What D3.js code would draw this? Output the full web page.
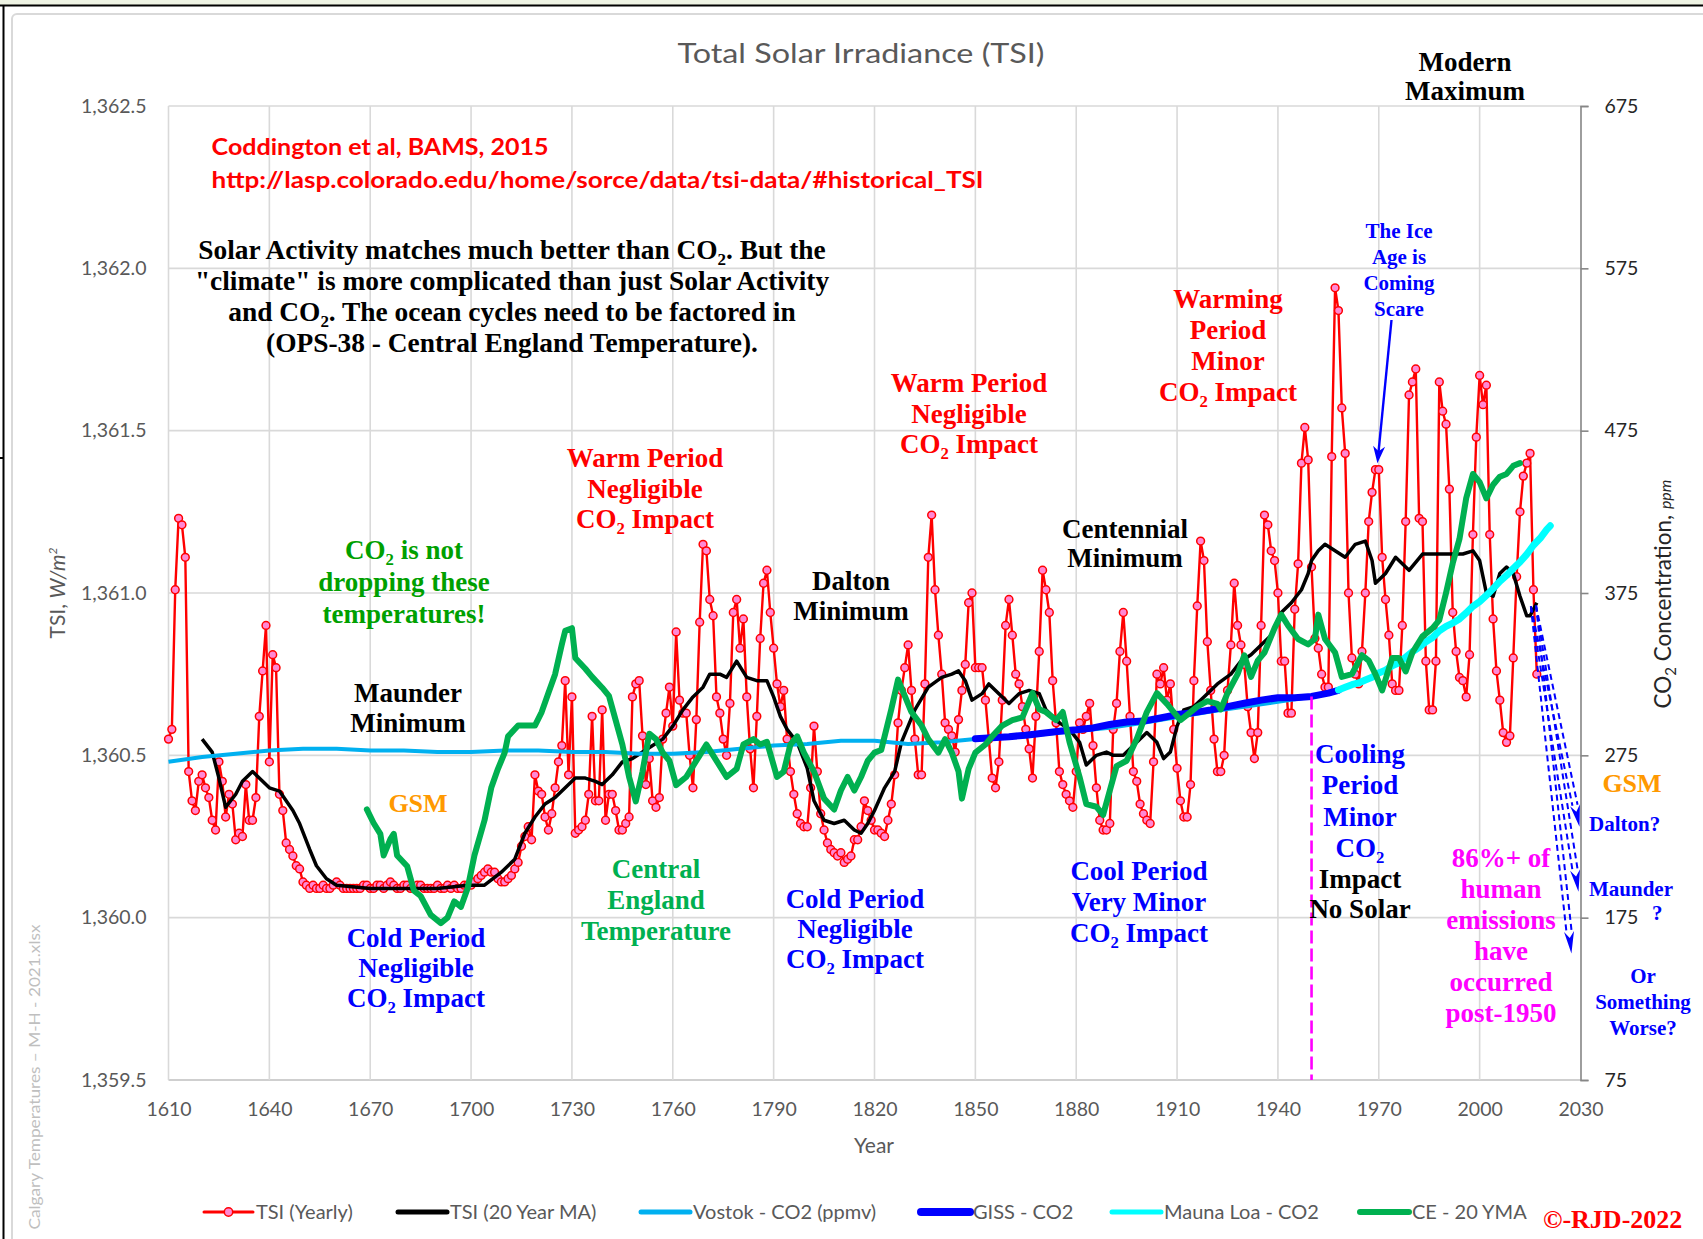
<!DOCTYPE html>
<html><head><meta charset="utf-8"><title>Total Solar Irradiance (TSI)</title>
<script src="https://cdnjs.cloudflare.com/ajax/libs/d3/7.8.5/d3.min.js"></script>
<style>html,body{margin:0;padding:0;background:#fff;overflow:hidden}svg{display:block}</style>
</head><body>
<svg id="chart" width="1703" height="1239"></svg>
<script>
// ================= DATA =================
const tsiFirstYear = 1610;
// TSI (Yearly), W/m2, one value per year from 1610
const tsiYearly = [
 1360.55,1360.58,1361.01,1361.23,1361.21,1361.11,1360.45,1360.36,1360.33,1360.42, // 1610
 1360.44,1360.40,1360.37,1360.30,1360.27,1360.48,1360.42,1360.31,1360.38,1360.35, // 1620
 1360.24,1360.26,1360.25,1360.41,1360.30,1360.30,1360.37,1360.62,1360.76,1360.90, // 1630
 1360.48,1360.81,1360.77,1360.38,1360.33,1360.23,1360.21,1360.19,1360.16,1360.15, // 1640
 1360.11,1360.10,1360.09,1360.10,1360.09,1360.09,1360.10,1360.09,1360.09,1360.10, // 1650
 1360.11,1360.10,1360.09,1360.09,1360.09,1360.09,1360.09,1360.09,1360.10,1360.10, // 1660
 1360.09,1360.09,1360.10,1360.10,1360.09,1360.10,1360.11,1360.10,1360.09,1360.09, // 1670
 1360.10,1360.10,1360.09,1360.09,1360.10,1360.10,1360.09,1360.09,1360.09,1360.09, // 1680
 1360.10,1360.09,1360.09,1360.10,1360.09,1360.10,1360.09,1360.09,1360.10,1360.10, // 1690
 1360.10,1360.11,1360.12,1360.13,1360.14,1360.15,1360.14,1360.14,1360.12,1360.11, // 1700
 1360.11,1360.12,1360.13,1360.15,1360.17,1360.22,1360.25,1360.28,1360.24,1360.44, // 1710
 1360.39,1360.38,1360.31,1360.27,1360.32,1360.40,1360.48,1360.53,1360.73,1360.44, // 1720
 1360.68,1360.26,1360.27,1360.28,1360.30,1360.38,1360.62,1360.36,1360.36,1360.64, // 1730
 1360.30,1360.38,1360.38,1360.33,1360.27,1360.27,1360.29,1360.31,1360.68,1360.72, // 1740
 1360.73,1360.56,1360.41,1360.49,1360.36,1360.34,1360.37,1360.55,1360.63,1360.71, // 1750
 1360.59,1360.88,1360.67,1360.63,1360.63,1360.50,1360.40,1360.61,1360.91,1361.15, // 1760
 1361.13,1360.98,1360.93,1360.68,1360.63,1360.55,1360.50,1360.66,1360.94,1360.98, // 1770
 1360.83,1360.92,1360.68,1360.52,1360.40,1360.62,1360.86,1361.03,1361.07,1360.94, // 1780
 1360.83,1360.72,1360.65,1360.70,1360.55,1360.45,1360.38,1360.32,1360.29,1360.28, // 1790
 1360.28,1360.40,1360.59,1360.45,1360.32,1360.27,1360.23,1360.21,1360.20,1360.19, // 1800
 1360.20,1360.17,1360.18,1360.19,1360.24,1360.24,1360.28,1360.36,1360.33,1360.30, // 1810
 1360.27,1360.27,1360.26,1360.25,1360.30,1360.35,1360.44,1360.60,1360.70,1360.77, // 1820
 1360.84,1360.70,1360.55,1360.44,1360.44,1360.72,1361.11,1361.24,1361.01,1360.87, // 1830
 1360.75,1360.60,1360.58,1360.56,1360.51,1360.61,1360.70,1360.78,1360.97,1361.00, // 1840
 1360.77,1360.77,1360.77,1360.67,1360.55,1360.43,1360.40,1360.48,1360.67,1360.90, // 1850
 1360.98,1360.87,1360.75,1360.72,1360.65,1360.58,1360.52,1360.43,1360.62,1360.82, // 1860
 1361.07,1361.01,1360.94,1360.73,1360.60,1360.45,1360.41,1360.38,1360.36,1360.34, // 1870
 1360.45,1360.60,1360.58,1360.62,1360.66,1360.53,1360.40,1360.30,1360.27,1360.27, // 1880
 1360.29,1360.58,1360.66,1360.82,1360.94,1360.79,1360.62,1360.45,1360.42,1360.35, // 1890
 1360.32,1360.30,1360.29,1360.48,1360.75,1360.72,1360.77,1360.67,1360.72,1360.58, // 1900
 1360.46,1360.36,1360.31,1360.31,1360.41,1360.73,1360.96,1361.16,1361.10,1360.85, // 1910
 1360.70,1360.55,1360.45,1360.45,1360.50,1360.70,1360.84,1361.03,1360.90,1360.84, // 1920
 1360.78,1360.65,1360.57,1360.49,1360.57,1360.90,1361.24,1361.21,1361.13,1361.10, // 1930
 1361.00,1360.79,1360.79,1360.63,1360.63,1360.95,1361.09,1361.40,1361.51,1361.41, // 1940
 1361.08,1360.86,1360.83,1360.75,1360.71,1360.71,1361.42,1361.94,1361.87,1361.57, // 1950
 1361.43,1361.00,1360.80,1360.75,1360.72,1360.82,1361.00,1361.22,1361.31,1361.38, // 1960
 1361.38,1361.11,1360.98,1360.87,1360.72,1360.70,1360.70,1360.90,1361.22,1361.61, // 1970
 1361.65,1361.69,1361.23,1361.22,1360.79,1360.64,1360.64,1360.79,1361.65,1361.56, // 1980
 1361.52,1361.32,1360.94,1360.82,1360.74,1360.73,1360.68,1360.81,1361.18,1361.48, // 1990
 1361.67,1361.58,1361.64,1361.18,1360.92,1360.76,1360.67,1360.57,1360.54,1360.56, // 2000
 1360.80,1361.05,1361.25,1361.36,1361.40,1361.43,1361.01,1360.75                  // 2010
];
// TSI (20 Year MA) [year, W/m2]
const tsiMA20 = [[1620,1360.55],[1623,1360.51],[1625,1360.43],[1627,1360.34],[1630,1360.38],[1632,1360.42],[1634,1360.44],[1635,1360.45],[1637,1360.43],[1640,1360.40],[1643,1360.39],[1645,1360.36],[1647,1360.33],[1649,1360.29],[1652,1360.21],[1654,1360.16],[1657,1360.12],[1660,1360.10],[1670,1360.09],[1680,1360.09],[1690,1360.09],[1699,1360.10],[1704,1360.10],[1709,1360.14],[1713,1360.18],[1716,1360.26],[1719,1360.31],[1722,1360.35],[1725,1360.37],[1728,1360.40],[1731,1360.43],[1734,1360.43],[1737,1360.42],[1739,1360.41],[1742,1360.44],[1745,1360.48],[1748,1360.49],[1751,1360.51],[1754,1360.53],[1757,1360.55],[1760,1360.59],[1763,1360.64],[1766,1360.68],[1769,1360.71],[1771,1360.75],[1774,1360.75],[1776,1360.74],[1779,1360.79],[1782,1360.74],[1785,1360.73],[1788,1360.73],[1790,1360.68],[1792,1360.62],[1794,1360.58],[1797,1360.54],[1800,1360.46],[1802,1360.36],[1805,1360.30],[1808,1360.29],[1811,1360.30],[1814,1360.27],[1816,1360.26],[1818,1360.29],[1820,1360.33],[1823,1360.40],[1826,1360.45],[1828,1360.54],[1832,1360.64],[1836,1360.71],[1840,1360.74],[1843,1360.75],[1845,1360.76],[1847,1360.73],[1849,1360.67],[1852,1360.69],[1854,1360.72],[1857,1360.69],[1860,1360.66],[1863,1360.69],[1866,1360.70],[1869,1360.69],[1871,1360.64],[1875,1360.60],[1878,1360.58],[1881,1360.54],[1883,1360.47],[1886,1360.50],[1889,1360.51],[1891,1360.50],[1894,1360.50],[1897,1360.53],[1901,1360.57],[1904,1360.54],[1906,1360.49],[1908,1360.51],[1910,1360.59],[1912,1360.64],[1915,1360.65],[1918,1360.68],[1922,1360.72],[1926,1360.75],[1929,1360.79],[1932,1360.81],[1935,1360.84],[1938,1360.87],[1941,1360.94],[1944,1360.97],[1947,1361.01],[1949,1361.06],[1950,1361.10],[1952,1361.13],[1954,1361.15],[1957,1361.13],[1960,1361.11],[1963,1361.15],[1966,1361.16],[1968,1361.10],[1969,1361.03],[1972,1361.06],[1975,1361.11],[1979,1361.07],[1983,1361.12],[1987,1361.12],[1991,1361.12],[1995,1361.12],[1998,1361.13],[2000,1361.10],[2002,1361.00],[2004,1360.99],[2006,1361.06],[2008,1361.08],[2010,1361.06],[2012,1360.99],[2014,1360.93],[2015,1360.93],[2017,1360.97]];
// Vostok - CO2 (ppmv) [year, ppm]
const vostokCO2 = [[1610,271],[1620,274],[1630,276],[1640,278],[1650,279],[1660,279],[1670,278],[1680,278],[1690,277],[1700,277],[1710,278],[1720,278],[1730,277],[1740,277],[1750,276],[1760,276],[1770,277],[1780,279],[1790,281],[1800,282],[1810,284],[1820,284],[1830,282],[1840,283],[1850,285],[1860,286],[1870,288],[1880,290],[1890,292],[1900,295],[1920,302],[1940,308],[1953,312]];
// GISS - CO2 [year, ppm]
const gissCO2 = [[1850,285.2],[1855,285.9],[1860,286.5],[1865,287.4],[1870,288.6],[1875,289.8],[1880,290.7],[1885,291.9],[1890,294.0],[1895,295.5],[1900,296.1],[1905,298.0],[1910,300.1],[1915,301.3],[1920,303.0],[1925,305.0],[1930,307.1],[1935,309.0],[1940,310.5],[1945,310.5],[1950,311.3],[1955,313.3],[1958,315.0]];
// Mauna Loa - CO2 [year, ppm]
const maunaLoaCO2 = [[1958,315.3],[1960,316.9],[1962,318.5],[1964,319.6],[1966,321.4],[1968,323.1],[1970,325.7],[1972,327.5],[1974,330.2],[1976,332.0],[1978,335.4],[1980,338.8],[1982,341.5],[1984,344.9],[1986,347.6],[1988,351.7],[1990,354.5],[1992,356.5],[1994,359.0],[1996,362.7],[1998,366.8],[2000,369.7],[2002,373.5],[2004,377.7],[2006,382.1],[2008,385.8],[2010,390.1],[2012,394.1],[2014,398.8],[2016,404.4],[2018,408.7],[2020,414.2],[2021,416.4]];
// CE - 20 YMA (Central England Temperature, deg C, hidden axis) [year, degC]
const ce20yma = [[1669,9.00],[1671,8.95],[1673,8.91],[1674,8.83],[1676,8.89],[1677,8.91],[1678,8.83],[1681,8.79],[1683,8.70],[1685,8.68],[1688,8.61],[1691,8.58],[1693,8.60],[1695,8.66],[1697,8.64],[1699,8.71],[1701,8.83],[1704,8.96],[1706,9.08],[1708,9.15],[1710,9.21],[1711,9.27],[1714,9.31],[1717,9.31],[1719,9.31],[1721,9.36],[1723,9.43],[1725,9.50],[1727,9.61],[1728,9.66],[1730,9.67],[1731,9.56],[1734,9.52],[1736,9.49],[1739,9.45],[1741,9.42],[1743,9.33],[1745,9.24],[1747,9.12],[1749,9.03],[1751,9.14],[1753,9.28],[1755,9.26],[1757,9.21],[1759,9.18],[1761,9.09],[1764,9.12],[1766,9.16],[1768,9.20],[1770,9.24],[1772,9.20],[1774,9.16],[1776,9.12],[1779,9.15],[1781,9.24],[1784,9.26],[1786,9.24],[1788,9.25],[1791,9.12],[1793,9.14],[1795,9.24],[1797,9.27],[1799,9.21],[1802,9.14],[1805,9.04],[1808,9.00],[1810,9.07],[1812,9.12],[1814,9.07],[1816,9.12],[1818,9.18],[1820,9.21],[1822,9.22],[1825,9.37],[1827,9.48],[1829,9.42],[1831,9.36],[1834,9.31],[1836,9.26],[1839,9.21],[1841,9.26],[1843,9.21],[1845,9.14],[1846,9.04],[1848,9.15],[1850,9.21],[1853,9.24],[1855,9.27],[1858,9.31],[1861,9.33],[1864,9.34],[1867,9.43],[1869,9.37],[1871,9.36],[1874,9.33],[1876,9.36],[1878,9.25],[1881,9.12],[1883,9.02],[1886,9.01],[1888,8.98],[1890,9.07],[1892,9.16],[1895,9.18],[1898,9.26],[1901,9.36],[1904,9.43],[1907,9.39],[1909,9.36],[1911,9.33],[1914,9.36],[1916,9.38],[1919,9.40],[1922,9.39],[1923,9.37],[1925,9.43],[1928,9.50],[1930,9.57],[1932,9.49],[1934,9.55],[1936,9.58],[1939,9.67],[1941,9.72],[1943,9.68],[1946,9.63],[1949,9.61],[1951,9.63],[1952,9.72],[1954,9.63],[1957,9.58],[1959,9.49],[1962,9.50],[1965,9.57],[1967,9.55],[1969,9.50],[1971,9.44],[1974,9.56],[1976,9.56],[1978,9.51],[1980,9.58],[1983,9.64],[1986,9.67],[1988,9.70],[1990,9.80],[1992,9.91],[1994,10.00],[1996,10.15],[1998,10.24],[2000,10.21],[2002,10.15],[2004,10.20],[2006,10.23],[2008,10.24],[2010,10.27],[2012,10.28]];

const yearTicks = [1610,1640,1670,1700,1730,1760,1790,1820,1850,1880,1910,1940,1970,2000,2030];
const tsiTicks = [1359.5,1360.0,1360.5,1361.0,1361.5,1362.0,1362.5];
const co2Ticks = [75,175,275,375,475,575,675];
const post1950Year = 1950;
const iceAgeTarget = [1969.6, 1361.40];
const projectionStart = [2016, 1360.96];
const projectionEnds = [[2029.7,1360.28],[2029.4,1360.08],[2027.3,1359.89]];
const legendItems = ["TSI (Yearly)","TSI (20 Year MA)","Vostok - CO2 (ppmv)","GISS - CO2","Mauna Loa - CO2","CE - 20 YMA"];

// ================= DRAW =================
const W = 1703, H = 1239;
const PL = 168.5, PR = 1580.5, PT = 106, PB = 1080;
const SANS = "Lato, 'Open Sans', 'Liberation Sans', sans-serif";
const SERIF = "'Liberation Serif', 'Times New Roman', serif";
const RED = "#FF0000", BLUE = "#0000FF", GREY = "#595959";

const svg = d3.select("#chart");
const x = d3.scaleLinear().domain([1610, 2030]).range([PL, PR]);
const y = d3.scaleLinear().domain([1359.5, 1362.5]).range([PB, PT]);
const yCO2 = d3.scaleLinear().domain([75, 675]).range([PB, PT]);
const yCE = d3.scaleLinear().domain([8.0, 11.6]).range([PB, PT]);

// frame
svg.append("rect").attr("width", W).attr("height", H).attr("fill", "#fff");
svg.append("rect").attr("x", 0).attr("y", 0).attr("width", W).attr("height", 5).attr("fill", "#EEF3E3");
svg.append("rect").attr("x", 12).attr("y", 14).attr("width", W).attr("height", H).attr("rx", 5)
  .attr("fill", "#fff").attr("stroke", "#D9D9D9").attr("stroke-width", 2);
svg.append("line").attr("x1", 0).attr("x2", W).attr("y1", 5.5).attr("y2", 5.5).attr("stroke", "#000").attr("stroke-width", 2);
svg.append("line").attr("x1", 3.5).attr("x2", 3.5).attr("y1", 5).attr("y2", H).attr("stroke", "#000").attr("stroke-width", 2);
svg.append("line").attr("x1", 0).attr("x2", 4).attr("y1", 458).attr("y2", 458).attr("stroke", "#000").attr("stroke-width", 2);

// gridlines
const grid = svg.append("g");
grid.selectAll("line.h").data(tsiTicks).join("line").attr("class", "h")
  .attr("x1", PL).attr("x2", PR).attr("y1", d => y(d)).attr("y2", d => y(d))
  .attr("stroke", (d, i) => i === 0 ? "#BFBFBF" : "#D9D9D9").attr("stroke-width", 1.6);
grid.selectAll("line.v").data(yearTicks.slice(0, -1)).join("line").attr("class", "v")
  .attr("x1", d => x(d)).attr("x2", d => x(d)).attr("y1", PT).attr("y2", PB)
  .attr("stroke", "#D9D9D9").attr("stroke-width", 1.6);

// axes
const gx = svg.append("g").attr("transform", `translate(0,${PB})`)
  .call(d3.axisBottom(x).tickValues(yearTicks).tickFormat(d3.format("d")).tickSize(0).tickPadding(22));
gx.select(".domain").remove();
gx.selectAll("text").attr("font-family", SANS).attr("font-size", 19.5).attr("fill", GREY);

const gy = svg.append("g").attr("transform", `translate(${PL},0)`)
  .call(d3.axisLeft(y).tickValues(tsiTicks).tickFormat(d3.format(",.1f")).tickSize(0).tickPadding(22));
gy.select(".domain").remove();
gy.selectAll("text").attr("font-family", SANS).attr("font-size", 19.5).attr("fill", GREY);

const gr = svg.append("g").attr("transform", `translate(${PR},0)`)
  .call(d3.axisRight(yCO2).tickValues(co2Ticks).tickSize(8).tickSizeOuter(8).tickPadding(16));
gr.select(".domain").attr("stroke", "#868686").attr("stroke-width", 1.6);
gr.selectAll(".tick line").attr("stroke", "#868686").attr("stroke-width", 1.6);
gr.selectAll("text").attr("font-family", SANS).attr("font-size", 19.5).attr("fill", "#262626");

// titles
svg.append("text").attr("x", 861).attr("y", 63).attr("text-anchor", "middle")
  .attr("font-family", SANS).attr("font-size", 26).attr("fill", GREY)
  .attr("textLength", 367).attr("lengthAdjust", "spacingAndGlyphs").text("Total Solar Irradiance (TSI)");
svg.append("text").attr("x", 874).attr("y", 1153).attr("text-anchor", "middle")
  .attr("font-family", SANS).attr("font-size", 21).attr("fill", GREY).text("Year");

const lt = svg.append("text").attr("transform", "translate(64.5,593) rotate(-90)").attr("text-anchor", "middle")
  .attr("font-family", SANS).attr("font-size", 21).attr("fill", GREY);
lt.append("tspan").text("TSI, ");
lt.append("tspan").attr("font-style", "italic").text("W/m");
lt.append("tspan").attr("font-size", 12).attr("dy", -8).attr("font-style", "italic").text("2");

const rt = svg.append("text").attr("transform", "translate(1671,594) rotate(-90)").attr("text-anchor", "middle")
  .attr("font-family", SANS).attr("font-size", 22.5).attr("fill", "#262626");
rt.append("tspan").text("CO");
rt.append("tspan").attr("font-size", 15).attr("dy", 5).text("2");
rt.append("tspan").attr("dy", -5).text(" Concentration, ");
rt.append("tspan").attr("font-size", 16).attr("font-style", "italic").text("ppm");

svg.append("text").attr("transform", "translate(40,1077) rotate(-90)").attr("text-anchor", "middle")
  .attr("font-family", SANS).attr("font-size", 16).attr("fill", "#BFBFBF")
  .attr("textLength", 305).attr("lengthAdjust", "spacingAndGlyphs").text("Calgary Temperatures \u2013 M-H - 2021.xlsx");

// series
const tsiData = tsiYearly.map((v, i) => [tsiFirstYear + i, v]);
const lineTSI = d3.line().x(d => x(d[0])).y(d => y(d[1]));
const lineCO2 = d3.line().x(d => x(d[0])).y(d => yCO2(d[1]));
const lineCE = d3.line().x(d => x(d[0])).y(d => yCE(d[1]));

svg.append("path").datum(tsiData).attr("d", lineTSI).attr("fill", "none")
  .attr("stroke", RED).attr("stroke-width", 2.4).attr("stroke-linejoin", "round");
svg.append("g").selectAll("circle").data(tsiData).join("circle")
  .attr("cx", d => x(d[0])).attr("cy", d => y(d[1])).attr("r", 3.9)
  .attr("fill", "#FF88D4").attr("stroke", RED).attr("stroke-width", 1.5);
svg.append("path").datum(tsiMA20).attr("d", lineTSI).attr("fill", "none")
  .attr("stroke", "#000").attr("stroke-width", 3.5).attr("stroke-linejoin", "round");
svg.append("path").datum(vostokCO2).attr("d", lineCO2).attr("fill", "none")
  .attr("stroke", "#00B0F0").attr("stroke-width", 4).attr("stroke-linejoin", "round");
svg.append("path").datum(gissCO2).attr("d", lineCO2).attr("fill", "none")
  .attr("stroke", BLUE).attr("stroke-width", 7).attr("stroke-linejoin", "round").attr("stroke-linecap", "round");
svg.append("path").datum(maunaLoaCO2).attr("d", lineCO2).attr("fill", "none")
  .attr("stroke", "#00FFFF").attr("stroke-width", 7).attr("stroke-linejoin", "round").attr("stroke-linecap", "round");
svg.append("path").datum(ce20yma).attr("d", lineCE).attr("fill", "none")
  .attr("stroke", "#00B050").attr("stroke-width", 6).attr("stroke-linejoin", "round").attr("stroke-linecap", "round");

// post-1950 dashed line
const giss1950 = gissCO2.find(d => d[0] === post1950Year)[1];
svg.append("line").attr("x1", x(post1950Year)).attr("x2", x(post1950Year))
  .attr("y1", yCO2(giss1950)).attr("y2", PB)
  .attr("stroke", "#FF00FF").attr("stroke-width", 2.6).attr("stroke-dasharray", "13,5");

// text helper (supports "_2" subscript)
function rich(t, str, size) {
  const parts = str.split("_2");
  let down = false;
  parts.forEach((p, i) => {
    if (p.length) { const s = t.append("tspan").text(p); if (down) { s.attr("dy", -size * 0.22); down = false; } }
    if (i < parts.length - 1) { t.append("tspan").attr("font-size", size * 0.62).attr("dy", size * 0.22).text("2"); down = true; }
  });
}
function block(o) {
  const size = o.size || 27, lh = o.lh || 30.5;
  o.lines.forEach((ln, i) => {
    const t = svg.append("text").attr("x", o.x).attr("y", o.y + i * lh)
      .attr("text-anchor", o.anchor || "middle").attr("font-family", o.family || SERIF)
      .attr("font-weight", "bold").attr("font-size", size).attr("fill", o.color);
    rich(t, ln, size);
  });
}
const annotations = [
  {lines:["Solar Activity matches much better than CO_2. But the","\"climate\" is more complicated than just Solar Activity","and CO_2. The ocean cycles need to be factored in","(OPS-38 - Central England Temperature)."], x:512, y:259, lh:31, size:27.4, color:"#000"},
  {lines:["CO_2 is not","dropping these","temperatures!"], x:404, y:559, lh:32, color:"#00A000"},
  {lines:["Maunder","Minimum"], x:408, y:702, lh:30, color:"#000"},
  {lines:["GSM"], x:418, y:812, size:26, color:"#FF9900"},
  {lines:["Cold Period","Negligible","CO_2 Impact"], x:416, y:947, lh:30, color:BLUE},
  {lines:["Warm Period","Negligible","CO_2 Impact"], x:645, y:467, lh:30.5, color:RED},
  {lines:["Central","England","Temperature"], x:656, y:878, lh:31, color:"#00B050"},
  {lines:["Dalton","Minimum"], x:851, y:590, lh:30, color:"#000"},
  {lines:["Cold Period","Negligible","CO_2 Impact"], x:855, y:908, lh:30, color:BLUE},
  {lines:["Warm Period","Negligible","CO_2 Impact"], x:969, y:392, lh:30.5, color:RED},
  {lines:["Centennial","Minimum"], x:1125, y:538, lh:29, color:"#000"},
  {lines:["Cool Period","Very Minor","CO_2 Impact"], x:1139, y:880, lh:31, color:BLUE},
  {lines:["Warming","Period","Minor","CO_2 Impact"], x:1228, y:308, lh:31, color:RED},
  {lines:["The Ice","Age is","Coming","Scare"], x:1399, y:238, lh:26, size:21, color:BLUE},
  {lines:["Modern","Maximum"], x:1465, y:71, lh:29, color:"#000"},
  {lines:["Cooling","Period","Minor","CO_2"], x:1360, y:763, lh:31.3, color:BLUE},
  {lines:["Impact","No Solar"], x:1360, y:888, lh:30, color:"#000"},
  {lines:["86%+ of","human","emissions","have","occurred","post-1950"], x:1501, y:867, lh:31, color:"#FF00FF"},
  {lines:["GSM"], x:1632, y:792, size:26, color:"#FF9900"},
  {lines:["?"], x:1652, y:920, size:21, anchor:"start", color:BLUE},
  {lines:["Dalton?"], x:1589, y:831, size:21, anchor:"start", color:BLUE},
  {lines:["Maunder"], x:1589, y:896, size:21, anchor:"start", color:BLUE},
  {lines:["Or","Something","Worse?"], x:1643, y:983, lh:26, size:21, color:BLUE},
  {lines:["\u00A9-RJD-2022"], x:1543, y:1228, size:26, anchor:"start", color:RED}
];
annotations.forEach(block);

// source text
svg.append("text").attr("x", 211.6).attr("y", 155).attr("font-family", SANS).attr("font-weight", "bold")
  .attr("font-size", 22).attr("fill", RED).attr("textLength", 337).attr("lengthAdjust", "spacingAndGlyphs")
  .text("Coddington et al, BAMS, 2015");
svg.append("text").attr("x", 211.6).attr("y", 188).attr("font-family", SANS).attr("font-weight", "bold")
  .attr("font-size", 22).attr("fill", RED).attr("textLength", 772).attr("lengthAdjust", "spacingAndGlyphs")
  .text("http://lasp.colorado.edu/home/sorce/data/tsi-data/#historical_TSI");

// arrowhead helper
function arrowHead(x1, y1, ux, uy, len, w, color) {
  const nx = -uy, ny = ux, bx = x1 - ux * len, by = y1 - uy * len;
  svg.append("path")
    .attr("d", `M${x1},${y1}L${bx + nx * w},${by + ny * w}L${bx + ux * len * 0.3},${by + uy * len * 0.3}L${bx - nx * w},${by - ny * w}Z`)
    .attr("fill", color);
}
// Ice-age arrow
{
  const x0 = 1391.5, y0 = 320, x1 = x(iceAgeTarget[0]), y1 = y(iceAgeTarget[1]);
  const L = Math.hypot(x1 - x0, y1 - y0), ux = (x1 - x0) / L, uy = (y1 - y0) / L;
  svg.append("line").attr("x1", x0).attr("y1", y0).attr("x2", x1 - ux * 10).attr("y2", y1 - uy * 10)
    .attr("stroke", BLUE).attr("stroke-width", 2.4);
  arrowHead(x1, y1, ux, uy, 17, 6, BLUE);
}
// projection arrows
projectionEnds.forEach(p => {
  const x0 = x(projectionStart[0]), y0 = y(projectionStart[1]);
  const x1 = x(p[0]), y1 = y(p[1]);
  const L = Math.hypot(x1 - x0, y1 - y0), ux = (x1 - x0) / L, uy = (y1 - y0) / L, nx = -uy, ny = ux;
  const len = 22, bx = x1 - ux * len, by = y1 - uy * len;
  [-2.6, 2.6].forEach(o => {
    svg.append("line").attr("x1", x0 + nx * o).attr("y1", y0 + ny * o).attr("x2", bx + nx * o).attr("y2", by + ny * o)
      .attr("stroke", BLUE).attr("stroke-width", 2).attr("stroke-dasharray", "6,4");
  });
  arrowHead(x1, y1, ux, uy, len, 5, BLUE);
});

// legend
const legendX = [204, 398, 641, 921, 1112, 1360];
const legendStyle = [
  {c: RED, w: 3, marker: true}, {c: "#000", w: 5}, {c: "#00B0F0", w: 5},
  {c: BLUE, w: 8}, {c: "#00FFFF", w: 5}, {c: "#00B050", w: 6}
];
const lg = svg.append("g");
legendItems.forEach((name, i) => {
  const lx = legendX[i], ly = 1212, st = legendStyle[i];
  lg.append("line").attr("x1", lx).attr("x2", lx + 49).attr("y1", ly).attr("y2", ly)
    .attr("stroke", st.c).attr("stroke-width", st.w).attr("stroke-linecap", "round");
  if (st.marker) lg.append("circle").attr("cx", lx + 24.5).attr("cy", ly).attr("r", 4.2)
    .attr("fill", "#FF88D4").attr("stroke", RED).attr("stroke-width", 1.5);
  lg.append("text").attr("x", lx + 52).attr("y", ly + 7).attr("font-family", SANS)
    .attr("font-size", 20).attr("fill", GREY).text(name);
});
</script>
</body></html>
